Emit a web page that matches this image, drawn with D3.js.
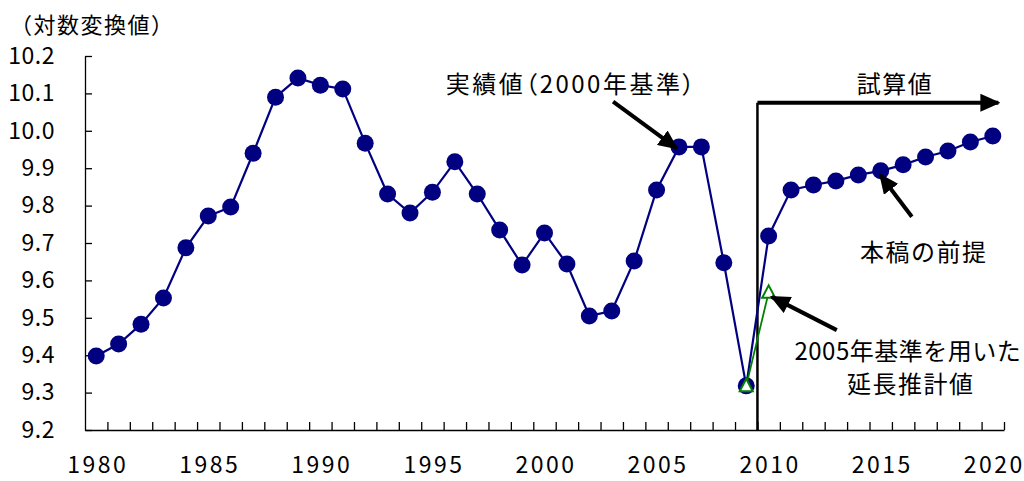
<!DOCTYPE html>
<html>
<head>
<meta charset="utf-8">
<script src="https://cdn.jsdelivr.net/npm/d3@7"></script>
<style>
  body { margin: 0; background: #fff; }
  text { font-family: "Noto Sans CJK JP", "Noto Sans", sans-serif; fill: #000; }
</style>
</head>
<body>
<div id="chart"></div>
<script>
const years = d3.range(1980, 2021);
// log-transformed values (actual 1980-2009, estimate 2010-2020)
const values = [9.398, 9.430, 9.483, 9.553, 9.687, 9.772, 9.796, 9.940, 10.090, 10.141,
  10.122, 10.112, 9.967, 9.831, 9.780, 9.836, 9.917, 9.831, 9.735, 9.641,
  9.727, 9.644, 9.505, 9.518, 9.652, 9.842, 9.957, 9.957, 9.647, 9.318,
  9.719, 9.842, 9.855, 9.866, 9.882, 9.893, 9.909, 9.930, 9.946, 9.970, 9.986];
// extension using the 2005 base
const extYears = [2009, 2010];
const extValues = [9.318, 9.568];

const yTicks = [9.2, 9.3, 9.4, 9.5, 9.6, 9.7, 9.8, 9.9, 10.0, 10.1, 10.2];
const xLabels = [1980, 1985, 1990, 1995, 2000, 2005, 2010, 2015, 2020];

// annotations in data units [year, value]
const arrows = [
  {from: [2003.06, 10.078], to: [2005.90, 9.953]},
  {from: [2016.39, 9.770], to: [2014.98, 9.882]},
  {from: [2013.04, 9.467], to: [2010.14, 9.556]},
  {from: [2009.5, 10.075], to: [2020.25, 10.075]}
];
const notes = [
  {text: "実績値（2000年基準）", at: [2001.14, 10.128]},
  {text: "試算値", at: [2015.6, 10.128]},
  {text: "本稿の前提", at: [2016.89, 9.681]},
  {text: "2005年基準を用いた", at: [2016.2, 9.414]},
  {text: "延長推計値", at: [2016.31, 9.328]}
];
const splitYear = 2009.5;

const width = 1024, height = 481;
const margin = {top: 56, right: 20, bottom: 51, left: 85};

const svg = d3.select("#chart").append("svg")
    .attr("width", width)
    .attr("height", height);

const x = d3.scaleBand().domain(years).range([margin.left, width - margin.right]);
const bw = x.bandwidth();
const xc = d3.scaleLinear().domain([1979.5, 2020.5]).range([margin.left, width - margin.right]);
const y = d3.scaleLinear().domain([9.2, 10.2]).range([height - margin.bottom, margin.top]);

// arrow head
svg.append("defs").append("marker")
    .attr("id", "head")
    .attr("markerUnits", "userSpaceOnUse")
    .attr("viewBox", "0 0 20 18")
    .attr("refX", 18).attr("refY", 9)
    .attr("markerWidth", 20).attr("markerHeight", 18)
    .attr("orient", "auto")
  .append("path")
    .attr("d", "M0,0L20,9L0,18Z")
    .attr("fill", "#000");

// Y axis
const yAxis = svg.append("g")
    .attr("transform", "translate(" + margin.left + ",0)")
    .call(d3.axisLeft(y).tickValues(yTicks).tickFormat(d3.format(".1f"))
      .tickSizeInner(-7).tickSizeOuter(0).tickPadding(30));
yAxis.selectAll("text").style("font-size", "23px").attr("letter-spacing", "0.5px");
yAxis.selectAll("line,path").attr("stroke", "#000").attr("stroke-width", 1.3);

// X axis: ticks at category boundaries
const xAxis = svg.append("g")
    .attr("transform", "translate(0," + (height - margin.bottom) + ")")
    .call(d3.axisBottom(xc).tickValues(d3.range(1980.5, 2021, 1)).tickFormat("")
      .tickSizeInner(-8).tickSizeOuter(0));
xAxis.selectAll("line,path").attr("stroke", "#000").attr("stroke-width", 1.3);

const xLab = svg.append("g")
    .attr("transform", "translate(0," + (height - margin.bottom) + ")")
    .call(d3.axisBottom(x).tickValues(xLabels).tickSize(0).tickPadding(27));
xLab.select(".domain").remove();
xLab.selectAll("text").style("font-size", "23px")
    .attr("letter-spacing", "2.5px").attr("dx", "1.5px");

// axis title
svg.append("text")
    .attr("x", 10).attr("y", 23)
    .attr("dominant-baseline", "central")
    .attr("letter-spacing", "1.5px")
    .style("font-size", "22px")
    .text("（対数変換値）");

// split line
svg.append("line")
    .attr("x1", xc(splitYear)).attr("x2", xc(splitYear))
    .attr("y1", y(9.2)).attr("y2", y(arrows[3].from[1]))
    .attr("stroke", "#000").attr("stroke-width", 2.5);

// main series
const line = d3.line()
    .x((d, i) => x(years[i]) + bw / 2)
    .y(d => y(d));

svg.append("path")
    .datum(values)
    .attr("fill", "none")
    .attr("stroke", "#000080")
    .attr("stroke-width", 2.2)
    .attr("d", line);

svg.selectAll(".dot")
  .data(values)
  .enter().append("circle")
    .attr("class", "dot")
    .attr("cx", (d, i) => x(years[i]) + bw / 2)
    .attr("cy", d => y(d))
    .attr("r", 8.5)
    .attr("fill", "#000080");

// extension series
const extLine = d3.line()
    .x((d, i) => x(extYears[i]) + bw / 2)
    .y(d => y(d));

svg.append("path")
    .datum(extValues)
    .attr("fill", "none")
    .attr("stroke", "#008000")
    .attr("stroke-width", 1.8)
    .attr("d", extLine);

svg.selectAll(".tri")
  .data(extValues)
  .enter().append("path")
    .attr("class", "tri")
    .attr("transform", (d, i) => "translate(" + (x(extYears[i]) + bw / 2) + "," + y(d) + ")")
    .attr("d", "M0,-7L6.5,5.5L-6.5,5.5Z")
    .attr("fill", "#fff")
    .attr("stroke", "#008000")
    .attr("stroke-width", 2);

// annotation arrows
svg.selectAll(".arrow")
  .data(arrows)
  .enter().append("line")
    .attr("class", "arrow")
    .attr("x1", d => xc(d.from[0])).attr("y1", d => y(d.from[1]))
    .attr("x2", d => xc(d.to[0])).attr("y2", d => y(d.to[1]))
    .attr("stroke", "#000")
    .attr("stroke-width", 4)
    .attr("marker-end", "url(#head)");

// the bracketed label uses proportional brackets, the long one sits against the edge
const spacing = t => t.includes("（") ? 2.5 : (/\d/.test(t) ? 0.5 : 1.5);

svg.selectAll(".note")
  .data(notes)
  .enter().append("text")
    .attr("class", "note")
    .attr("x", d => xc(d.at[0]))
    .attr("y", d => y(d.at[1]))
    .attr("dx", d => spacing(d.text) / 2)
    .attr("text-anchor", "middle")
    .attr("dominant-baseline", "central")
    .attr("letter-spacing", d => spacing(d.text) + "px")
    .style("font-feature-settings", d => d.text.includes("（") ? "'palt'" : "normal")
    .style("font-size", "24px")
    .text(d => d.text);
</script>
</body>
</html>
